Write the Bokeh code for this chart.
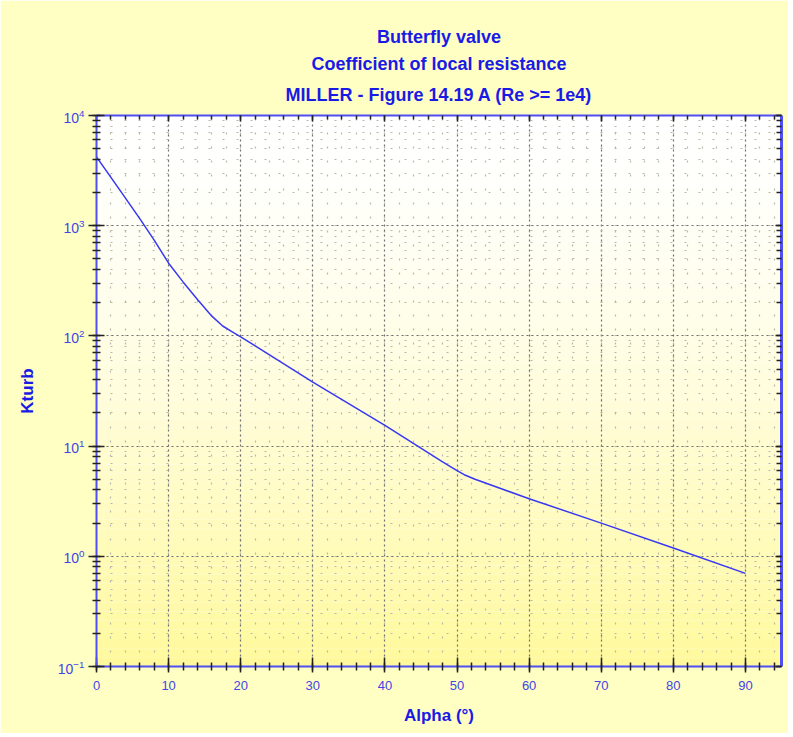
import numpy as np
from bokeh.plotting import figure
from bokeh.models import (LinearAxis, LogAxis, Title, SingleIntervalTicker, LogTicker,
                          Range1d)
from bokeh.embed import file_html
from bokeh.resources import INLINE

# ---- data ----
alpha = [0, 3, 6, 8, 10, 12, 14, 16, 17.5, 19, 20, 30, 40, 48, 50, 51, 52.5, 60, 70, 80, 90]
kturb = [4200, 2215, 1160, 740, 457, 309, 214, 151, 123, 107, 98, 38, 15.4, 7.2, 6.0, 5.5, 5.0,
         3.33, 2.0, 1.19, 0.70]

x_ticks = [0, 10, 20, 30, 40, 50, 60, 70, 80, 90]
title_lines = ["Butterfly valve", "Coefficient of local resistance",
               "MILLER - Figure 14.19 A (Re >= 1e4)"]

X0, X1 = 0, 95
Y0, Y1 = 0.1, 1e4

BLUE_TXT = "#1a1ae6"
BLUE_TICK = "#4444e8"
BLUE_AX = "#4f4ff2"
FONT = "Liberation Sans"

p = figure(width=788, height=733, output_backend="svg", toolbar_location=None,
           x_range=Range1d(X0, X1), y_range=Range1d(Y0, Y1), y_axis_type="log",
           x_axis_location=None, y_axis_location=None,
           min_border_left=96, min_border_right=7, min_border_top=115, min_border_bottom=67)
p.title = None
p.background_fill_color = "#ffffff"
p.border_fill_color = "#ffffc4"
p.outline_line_color = None

# gradient background of the plot area (white at top -> yellow at bottom)
n = 60
edges = np.logspace(np.log10(Y1), np.log10(Y0), n + 1)
tops, bottoms, cols = [], [], []
for i in range(n):
    t = (i + 0.5) / n
    f = t ** 1.5
    g = int(round(255 - 6 * f))
    b = int(round(255 - 100 * f))
    tops.append(edges[i])
    bottoms.append(edges[i + 1])
    cols.append("#%02x%02x%02x" % (255, g, b))
p.quad(left=X0, right=X1, top=tops, bottom=bottoms, fill_color=cols, line_color=None, level="underlay")

# grids
xt = SingleIntervalTicker(interval=10, num_minor_ticks=5)
yt = LogTicker(num_minor_ticks=10)
p.xgrid.ticker = xt
p.ygrid.ticker = yt
for g in (p.xgrid, p.ygrid):
    g.grid_line_color = "#707070"
    g.grid_line_dash = "2 3"
    g.grid_line_width = 1.2
    g.minor_grid_line_color = "#b8b8a8"
    g.minor_grid_line_dash = "2 12"
    g.minor_grid_line_width = 1.2
    g.level = "underlay"

# curve
p.line(alpha, kturb, line_color="#3838f2", line_width=1.5)

# axes
def style(ax, ticks_in, ticks_out, minor_in, minor_out, lw, labels=True):
    ax.axis_line_color = BLUE_AX
    ax.axis_line_width = lw
    ax.major_tick_line_color = "#222222"
    ax.minor_tick_line_color = "#222222"
    ax.major_tick_line_width = 1.5
    ax.minor_tick_line_width = 1.5
    ax.major_tick_in = ticks_in
    ax.major_tick_out = ticks_out
    ax.minor_tick_in = minor_in
    ax.minor_tick_out = minor_out
    if labels:
        ax.major_label_text_color = BLUE_TICK
        ax.major_label_text_font = FONT
        ax.major_label_text_font_size = "13px"
    else:
        ax.major_label_text_font_size = "1px"
        ax.major_label_text_color = None
        ax.major_label_standoff = 0

xb = LinearAxis(ticker=xt, axis_label="Alpha (°)")
style(xb, 9, 6, 4, 4, 2)
xb.major_label_standoff = 8
xb.axis_label_text_color = BLUE_TXT
xb.axis_label_text_font = FONT
xb.axis_label_text_font_style = "bold"
xb.axis_label_text_font_size = "17px"
xb.axis_label_standoff = 13
p.add_layout(xb, "below")

yl = LogAxis(ticker=yt, axis_label="Kturb")
style(yl, 8, 8, 4, 4, 2)
yl.major_label_text_font_size = "14px"
yl.major_label_standoff = 4
yl.axis_label_text_color = BLUE_TXT
yl.axis_label_text_font = FONT
yl.axis_label_text_font_style = "bold"
yl.axis_label_text_font_size = "17px"
yl.axis_label_standoff = 18
p.add_layout(yl, "left")

xtop = LinearAxis(ticker=xt)
style(xtop, 6, 0, 4, 0, 2, labels=False)
p.add_layout(xtop, "above")

yr = LogAxis(ticker=yt)
style(yr, 6, 0, 5, 0, 3, labels=False)
p.add_layout(yr, "right")

# titles (added innermost first)
for i, line in enumerate(reversed(title_lines)):
    t = Title(text=line, align="center", text_color=BLUE_TXT, text_font=FONT,
              text_font_style="bold", text_font_size="18px",
              standoff=17 if i == 0 else 5, vertical_align="top" if i == 0 else "bottom")
    if i == 0:
        t.text_line_height = 0.7
    p.add_layout(t, "above")

open("out.html", "w").write(file_html(p, INLINE))
